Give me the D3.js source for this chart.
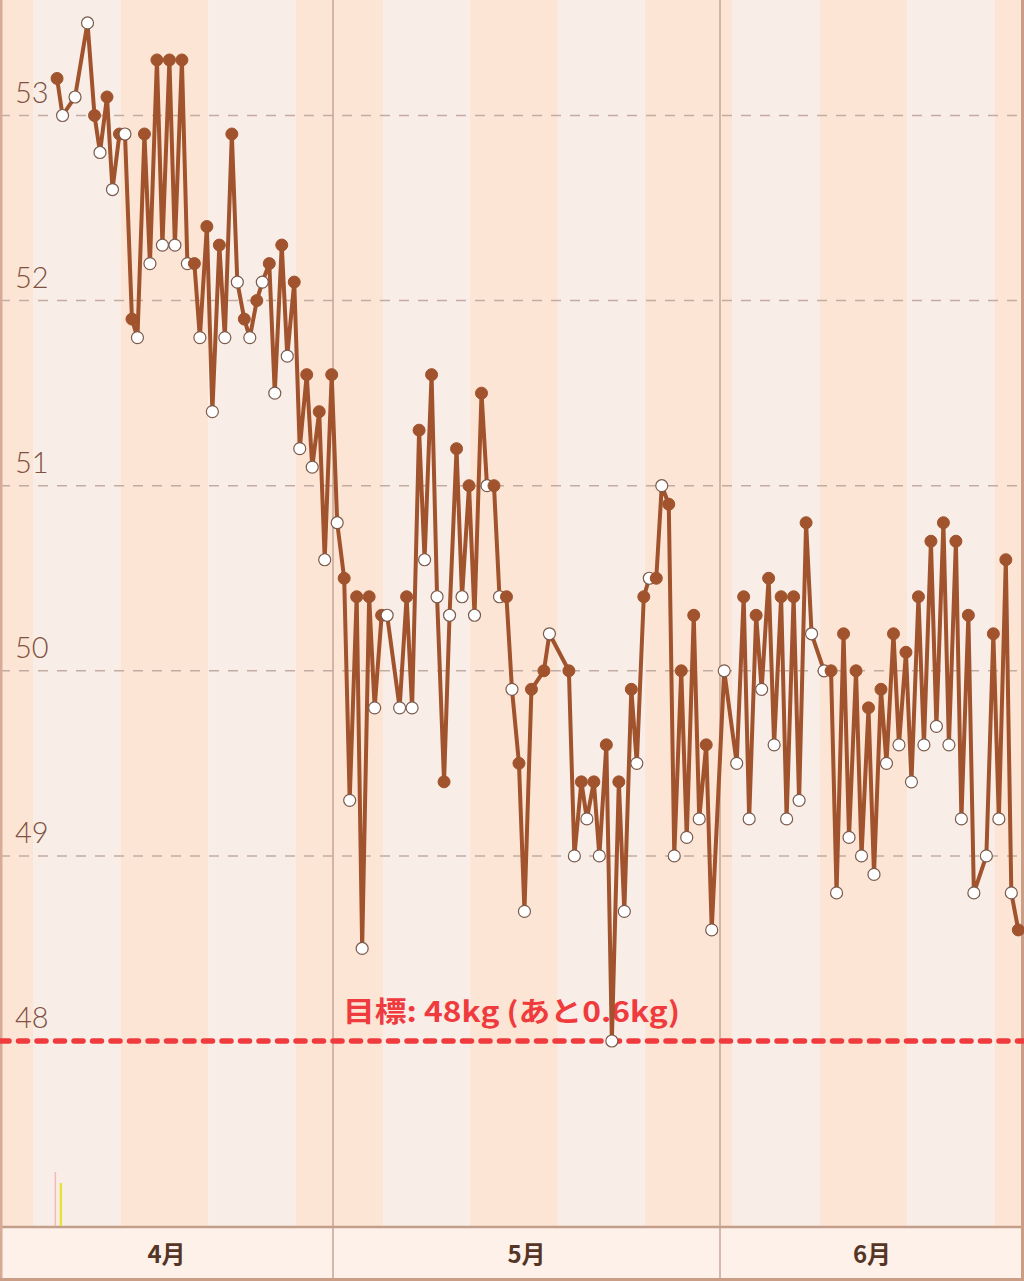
<!DOCTYPE html>
<html>
<head>
<meta charset="utf-8">
<script src="https://cdn.jsdelivr.net/npm/d3@7"></script>
<style>
  html, body { margin: 0; padding: 0; background: #fdf1ea; }
  svg { display: block; }
</style>
</head>
<body>
<svg id="chart" width="1024" height="1281"></svg>
<script>
// ---- Data (days counted from April 1 = 0) ----
const days = d3.range(8, 86); // April 9 .. June 25
const morning = [
  53.2, null, null, 53.0, 53.1, 52.9, 51.9, 52.9, 53.3, 53.3,
  53.3, 52.2, 52.4, 52.3, 52.9, 51.9, 52.0, 52.2, 52.3, 52.1,
  51.6, 51.4, 51.6, 50.5, 50.4, 50.4, 50.3, null, 50.4, 51.3,
  51.6, 49.4, 51.2, 51.0, 51.5, 51.0, 50.4, 49.5, 49.9, 50.0,
  null, 50.0, 49.4, 49.4, 49.6, 49.4, 49.9, 50.4, 50.5, 50.9,
  50.0, 50.3, 49.6, null, null, 50.4, 50.3, 50.5, 50.4, 50.4,
  50.8, null, 50.0, 50.2, 50.0, 49.8, 49.9, 50.2, 50.1, 50.4,
  50.7, 50.8, 50.7, 50.3, null, 50.2, 50.6, 48.6
];
const evening = [
  53.0, 53.1, 53.5, 52.8, 52.6, 52.9, 51.8, 52.2, 52.3, 52.3,
  52.2, 51.8, 51.4, 51.8, 52.1, 51.8, 52.1, 51.5, 51.7, 51.2,
  51.1, 50.6, 50.8, 49.3, 48.5, 49.8, 50.3, 49.8, 49.8, 50.6,
  50.4, 50.3, 50.4, 50.3, 51.0, 50.4, 49.9, 48.7, null, 50.2,
  null, 49.0, 49.2, 49.0, 48.0, 48.7, 49.5, 50.5, 51.0, 49.0,
  49.1, 49.2, 48.6, 50.0, 49.5, 49.2, 49.9, 49.6, 49.2, 49.3,
  50.2, 50.0, 48.8, 49.1, 49.0, 48.9, 49.5, 49.6, 49.4, 49.6,
  49.7, 49.6, 49.2, 48.8, 49.0, 49.2, 48.8, null
];
const yTicks = [48, 49, 50, 51, 52, 53];
const goal = 48;
const goalLabel = "目標: 48kg (あと0.6kg)";
const months = ["4月", "5月", "6月"];
const monthStarts = [0, 30, 61];      // day index of 1st of each month
const weekStarts = d3.range(-1, 90, 7); // weekly shading boundaries (day index)
const barDays = [8, 8];
const barValues = [54, 43];           // small activity bars
const barColors = ["#f2b9b9", "#e6e23c"];

// ---- Layout ----
const W = 1024, H = 1281;
const plotBottom = 1227;
const svg = d3.select("#chart");

const x = d3.scaleLinear().domain([30, 61]).range([333, 720]);
const y = d3.scaleLinear().domain([48, 53]).range([1041, 115.5]);
const MORNING_OFF = -0.104, EVENING_OFF = 0.336;

// background
svg.append("rect").attr("x", 0).attr("y", 0).attr("width", W).attr("height", H).attr("fill", "#fdf1ea");

// weekly stripes
svg.append("g").selectAll("rect").data(weekStarts).join("rect")
  .attr("x", d => Math.max(0, x(d)))
  .attr("y", 0)
  .attr("width", d => Math.max(0, Math.min(W, x(d + 7)) - Math.max(0, x(d))))
  .attr("height", plotBottom)
  .attr("fill", (d, i) => (i % 2 === 0) ? "#fde5d5" : "#f9eee7");

// horizontal gridlines (dashed)
svg.append("g").selectAll("line").data(yTicks.filter(v => v !== goal)).join("line")
  .attr("x1", 0).attr("x2", W)
  .attr("y1", d => y(d)).attr("y2", d => y(d))
  .attr("stroke", "#c2aca2").attr("stroke-width", 1.5)
  .attr("stroke-dasharray", "10,9");

// y labels
svg.append("g").selectAll("text").data(yTicks).join("text")
  .attr("x", 15).attr("y", d => y(d) - 13)
  .attr("font-family", "Lato, 'Noto Sans', sans-serif")
  .attr("font-weight", 300)
  .attr("font-size", 29)
  .attr("fill", "#7f5140")
  .text(d => d);

// month dividers
svg.append("g").selectAll("line").data(monthStarts.slice(1)).join("line")
  .attr("x1", d => x(d)).attr("x2", d => x(d))
  .attr("y1", 0).attr("y2", H)
  .attr("stroke", "#c4a596").attr("stroke-width", 1.5);

// axis band
svg.append("rect").attr("x", 0).attr("y", plotBottom).attr("width", W).attr("height", H - plotBottom)
  .attr("fill", "#fdf1ea");
svg.append("g").selectAll("line").data(monthStarts.slice(1)).join("line")
  .attr("x1", d => x(d)).attr("x2", d => x(d))
  .attr("y1", plotBottom).attr("y2", H)
  .attr("stroke", "#c4a596").attr("stroke-width", 1.5);
svg.append("line").attr("x1", 0).attr("x2", W).attr("y1", plotBottom).attr("y2", plotBottom)
  .attr("stroke", "#c29e8b").attr("stroke-width", 2.5);

// month labels centred in visible month ranges
const monthBounds = monthStarts.map((m, i) => [Math.max(0, x(m)), i + 1 < monthStarts.length ? x(monthStarts[i + 1]) : W]);
svg.append("g").selectAll("text").data(months).join("text")
  .attr("x", (d, i) => (monthBounds[i][0] + monthBounds[i][1]) / 2)
  .attr("y", 1263)
  .attr("text-anchor", "middle")
  .attr("font-family", "'Noto Sans CJK JP', sans-serif")
  .attr("font-weight", 700)
  .attr("font-size", 24)
  .attr("fill", "#553526")
  .text(d => d);

// outer border
svg.append("line").attr("x1", 1.25).attr("x2", 1.25).attr("y1", 0).attr("y2", H).attr("stroke", "#d6ab95").attr("stroke-width", 2.5);
svg.append("line").attr("x1", W - 1.5).attr("x2", W - 1.5).attr("y1", 0).attr("y2", H).attr("stroke", "#c99d86").attr("stroke-width", 3);
svg.append("line").attr("x1", 0).attr("x2", W).attr("y1", H - 1.5).attr("y2", H - 1.5).attr("stroke", "#c99d86").attr("stroke-width", 3);

// small activity bars
const barH = d3.scaleLinear().domain([0, 54]).range([0, 54]);
svg.append("g").selectAll("line").data(barDays).join("line")
  .attr("x1", (d, i) => x(d) + (i === 0 ? -3 : 2.5))
  .attr("x2", (d, i) => x(d) + (i === 0 ? -3 : 2.5))
  .attr("y1", plotBottom - 1)
  .attr("y2", (d, i) => plotBottom - 1 - barH(barValues[i]))
  .attr("stroke", (d, i) => barColors[i])
  .attr("stroke-width", (d, i) => i === 0 ? 1.5 : 2.5);

// goal line + label
svg.append("line").attr("x1", 0).attr("x2", W).attr("y1", y(goal)).attr("y2", y(goal))
  .attr("stroke", "#ef3b3d").attr("stroke-width", 5.5)
  .attr("stroke-linecap", "round")
  .attr("stroke-dasharray", "9,9.5");
svg.append("text").attr("x", 343).attr("y", 1022)
  .attr("font-family", "'Noto Sans CJK JP', sans-serif")
  .attr("font-weight", 700)
  .attr("font-size", 28)
  .attr("textLength", 337)
  .attr("lengthAdjust", "spacingAndGlyphs")
  .attr("fill", "#ef3b3d")
  .text(goalLabel);

// ---- series ----
const points = [];
days.forEach((d, i) => {
  if (morning[i] != null) points.push({ t: d + MORNING_OFF, v: morning[i], type: "m" });
  if (evening[i] != null) points.push({ t: d + EVENING_OFF, v: evening[i], type: "e" });
});

const line = d3.line().x(p => x(p.t)).y(p => y(p.v));
svg.append("path").datum(points)
  .attr("d", line)
  .attr("fill", "none")
  .attr("stroke", "#a0532d")
  .attr("stroke-width", 4)
  .attr("stroke-linejoin", "round");

svg.append("g").selectAll("circle").data(points).join("circle")
  .attr("cx", p => x(p.t)).attr("cy", p => y(p.v))
  .attr("r", 6)
  .attr("fill", p => p.type === "m" ? "#a0532d" : "#ffffff")
  .attr("stroke", p => p.type === "m" ? "#a0532d" : "#7a5a4c")
  .attr("stroke-width", p => p.type === "m" ? 1 : 1.2);
</script>
</body>
</html>
